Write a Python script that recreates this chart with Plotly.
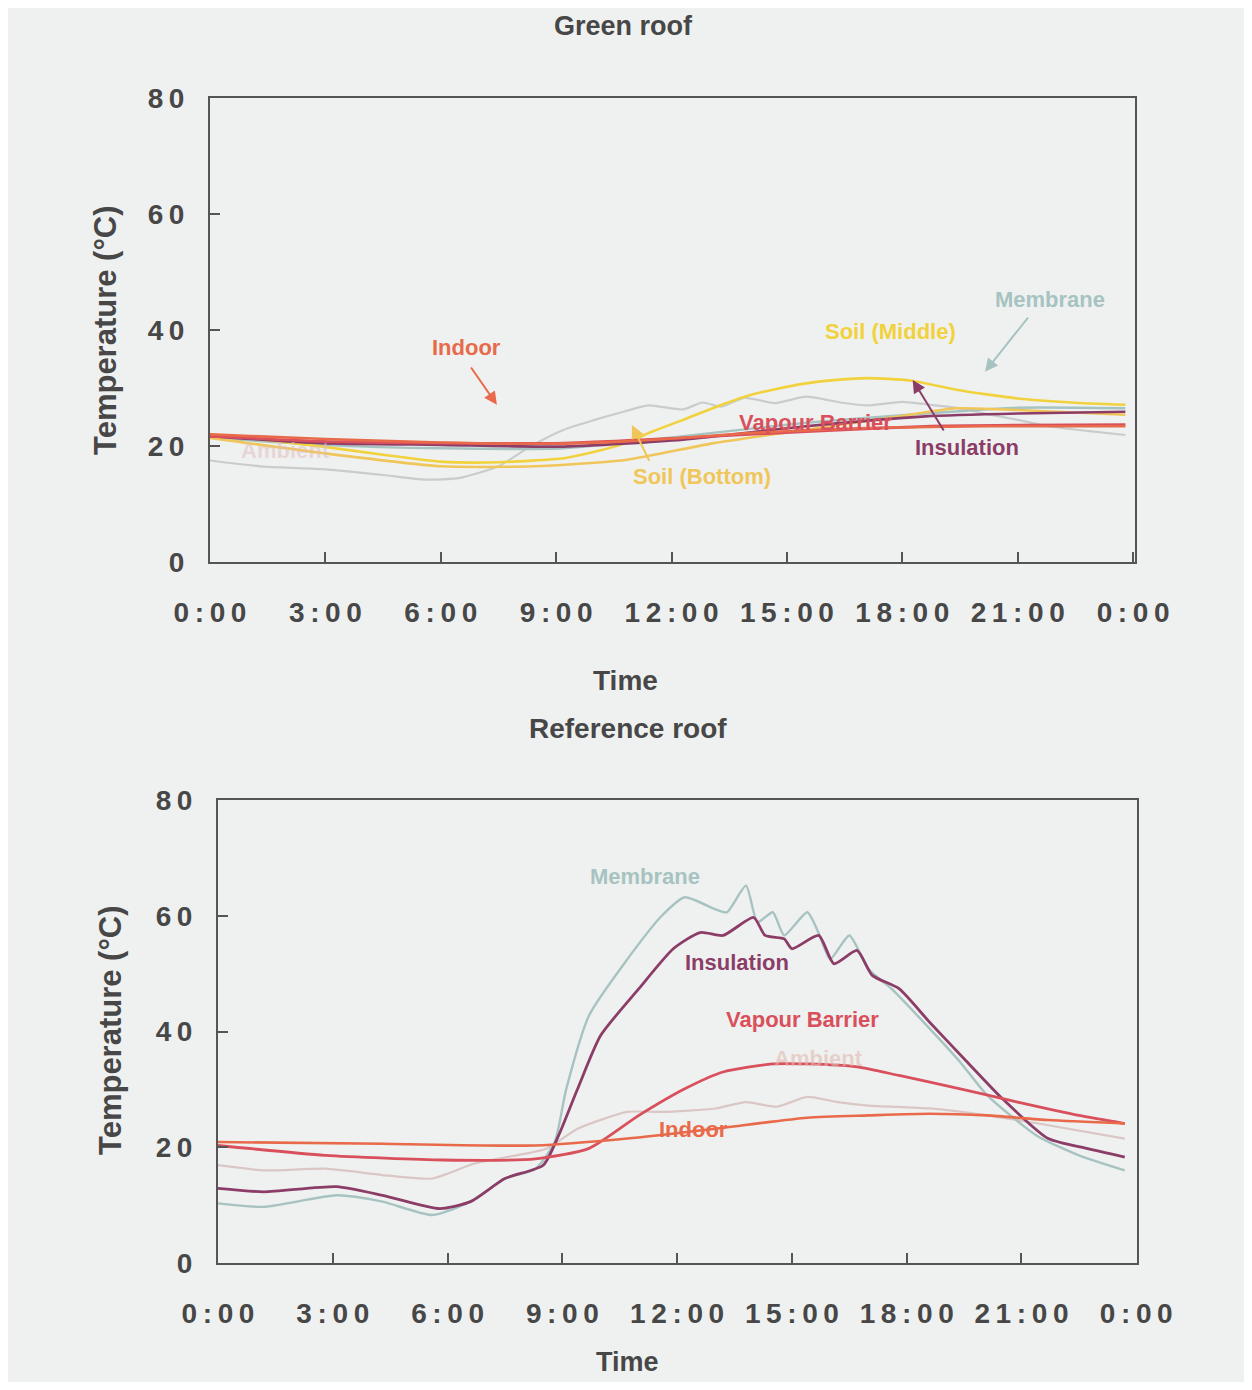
import plotly.graph_objects as go

# ---------------- tick labels ----------------
TIME_TICKS = [0, 3, 6, 9, 12, 15, 18, 21, 24]
TIME_LABELS = ["0:00", "3:00", "6:00", "9:00", "12:00", "15:00", "18:00", "21:00", "0:00"]
TEMP_TICKS = [0, 20, 40, 60, 80]
TEMP_LABELS = ["0", "20", "40", "60", "80"]

# ---------------- Green roof data (hours, °C) ----------------
g_ambient_h = [0, 1.3, 2.9, 4.5, 5.6, 6.5, 7.5, 8.3, 9.2, 10, 10.8, 11.4, 12.3, 12.8, 13.3, 13.9,
               14.7, 15.5, 16.4, 17.1, 18, 18.6, 19.5, 20.2, 21, 21.8, 22.8, 23.8]
g_ambient_t = [17.5, 16.5, 16.0, 15.0, 14.2, 14.5, 16.5, 19.8, 22.8, 24.5, 26.0, 27.0, 26.3, 27.5, 26.8, 28.3,
               27.4, 28.5, 27.5, 27.0, 27.6, 27.2, 26.5, 25.5, 24.5, 23.4, 22.6, 21.9]
g_membrane_h = [0, 2.9, 6, 9.2, 12.3, 15.5, 18.6, 21, 23.8]
g_membrane_t = [21.4, 20.2, 19.6, 19.6, 21.7, 24.0, 25.6, 26.6, 26.5]
g_soil_bot_h = [0, 2.9, 6, 8.4, 10.8, 13.1, 15.5, 17.9, 19.4, 21, 23.8]
g_soil_bot_t = [21.4, 18.8, 16.5, 16.5, 17.6, 20.5, 22.8, 25.1, 26.5, 26.2, 25.4]
g_soil_mid_h = [0, 1.5, 2.9, 4.5, 6, 7.5, 9.2, 10, 10.8, 11.5, 12.3, 13.1, 13.9, 14.7, 15.5, 16.3,
                17.1, 18.2, 19.4, 20.2, 21, 22.4, 23.8]
g_soil_mid_t = [22.0, 21.0, 19.9, 18.5, 17.3, 17.2, 17.9, 19.0, 20.5, 22.5, 24.5, 26.6, 28.5, 29.8, 30.8, 31.4,
                31.7, 31.3, 29.7, 28.9, 28.2, 27.5, 27.1]
g_insulation_h = [0, 2.9, 6, 9.2, 12.3, 15.5, 18.6, 21, 23.8]
g_insulation_t = [21.7, 20.5, 20.2, 19.9, 21.1, 23.4, 25.1, 25.6, 25.9]
g_vapour_h = [0, 2.9, 6, 9.2, 12.3, 15.5, 18.6, 21, 23.8]
g_vapour_t = [21.7, 20.8, 20.5, 20.5, 21.4, 22.5, 23.4, 23.6, 23.7]
g_indoor_h = [0, 3, 6, 9, 10.8, 12.5, 13.9, 15.5, 17.1, 20.2, 23.8]
g_indoor_t = [22.0, 21.2, 20.6, 20.4, 20.8, 21.5, 22.2, 22.7, 23.1, 23.4, 23.4]

# ---------------- Reference roof data (hours, °C) ----------------
r_ambient_h = [0, 1.2, 2.8, 4.3, 5.6, 6.7, 7.8, 8.6, 9.4, 10.7, 11.6, 13.0, 13.8, 14.6, 15.4, 16.2,
               17.0, 18.6, 20.1, 21.7, 23.7]
r_ambient_t = [16.9, 16.0, 16.3, 15.2, 14.6, 17.2, 18.6, 19.8, 23.2, 26.1, 26.1, 26.7, 27.8, 27.0, 28.7, 27.8,
               27.2, 26.7, 25.5, 23.8, 21.5]
r_membrane_h = [0, 1.2, 3.1, 4.3, 5.6, 6.6, 7.5, 8.3, 8.8, 9.1, 9.7, 10.7, 11.6, 12.2, 13.0, 13.3,
                13.8, 14.1, 14.5, 14.8, 15.4, 15.7, 16.0, 16.5, 17.0, 17.6, 18.6, 19.4, 20.1, 21.4,
                22.5, 23.7]
r_membrane_t = [10.3, 9.7, 11.7, 10.6, 8.3, 10.6, 14.6, 16.3, 20.9, 30.0, 42.8, 52.5, 60.0, 63.2, 61.1, 60.6,
                65.2, 58.9, 60.6, 56.6, 60.6, 57.0, 52.5, 56.6, 50.8, 47.4, 40.5, 34.7, 29.0, 22.0,
                18.6, 16.0]
r_insulation_h = [0, 1.2, 3.1, 4.3, 5.8, 6.6, 7.5, 8.5, 8.9, 9.4, 10.0, 11.0, 11.9, 12.6, 13.2, 14.0,
                  14.3, 14.8, 15.0, 15.7, 16.1, 16.7, 17.1, 17.8, 18.6, 19.5, 20.5, 21.7, 22.7, 23.7]
r_insulation_t = [12.9, 12.3, 13.2, 11.7, 9.4, 10.6, 14.6, 16.9, 22.0, 30.1, 39.3, 47.4, 54.3, 57.1, 56.6, 59.7,
                  56.6, 56.0, 54.3, 56.6, 51.7, 54.0, 49.7, 47.4, 41.6, 35.3, 28.4, 21.5, 19.8, 18.3]
r_vapour_h = [0, 2.8, 5.9, 8.3, 9.7, 11.0, 12.2, 13.2, 14.5, 15.4, 16.7, 17.8, 19.4, 20.9, 22.5, 23.7]
r_vapour_t = [20.3, 18.6, 17.8, 18.0, 19.8, 25.5, 30.1, 33.0, 34.4, 34.4, 33.9, 32.4, 30.1, 27.8, 25.5, 24.1]
r_indoor_h = [0, 4.3, 8.3, 10.7, 13.0, 15.4, 17.0, 18.6, 20.1, 21.7, 23.7]
r_indoor_t = [20.9, 20.6, 20.3, 21.5, 23.2, 25.1, 25.5, 25.8, 25.5, 24.7, 24.1]

# ---------------- label texts ----------------
LBL_MEMBRANE = "Membrane"
LBL_INSULATION = "Insulation"
LBL_VAPOUR = "Vapour Barrier"
LBL_INDOOR = "Indoor"
LBL_AMBIENT = "Ambient"
LBL_SOIL_MID = "Soil (Middle)"
LBL_SOIL_BOT = "Soil (Bottom)"

C_MEMBRANE = "#a7c3c1"
C_INSULATION = "#8b3d68"
C_VAPOUR = "#d9505c"
C_INDOOR = "#e86a4a"
C_AMBIENT_G = "#c9cccc"
C_AMBIENT_R = "#dac7c5"
C_SOIL_MID = "#f1d23c"
C_SOIL_BOT = "#f0c65a"

FONT = "Liberation Sans, Arial, sans-serif"
BG = "#eff1f0"
AX = "#555555"
TXT = "#474747"

# page offset (browser body margin) and figure size
OFF = 8
W, H = 1252 - 2 * OFF, 1390 - 2 * OFF


def px(X):
    return (X - OFF) / W


def py(Y):
    return 1 - (Y - OFF) / H


def spaced(s):
    return "\u2009".join(s)


fig = go.Figure()


def add(h, t, color, xa, ya, width=2.6, name=""):
    fig.add_trace(go.Scatter(x=h, y=t, mode="lines", name=name, xaxis=xa, yaxis=ya,
                             line=dict(color=color, width=width, shape="spline", smoothing=0.6),
                             showlegend=False, hoverinfo="skip"))


# green roof traces
add(g_ambient_h, g_ambient_t, C_AMBIENT_G, "x", "y", 2.2, LBL_AMBIENT)
add(g_membrane_h, g_membrane_t, C_MEMBRANE, "x", "y", 2.4, LBL_MEMBRANE)
add(g_soil_bot_h, g_soil_bot_t, C_SOIL_BOT, "x", "y", 2.6, LBL_SOIL_BOT)
add(g_soil_mid_h, g_soil_mid_t, C_SOIL_MID, "x", "y", 2.6, LBL_SOIL_MID)
add(g_insulation_h, g_insulation_t, C_INSULATION, "x", "y", 2.6, LBL_INSULATION)
add(g_vapour_h, g_vapour_t, C_VAPOUR, "x", "y", 2.8, LBL_VAPOUR)
add(g_indoor_h, g_indoor_t, C_INDOOR, "x", "y", 2.6, LBL_INDOOR)

# reference roof traces
add(r_ambient_h, r_ambient_t, C_AMBIENT_R, "x2", "y2", 2.2, LBL_AMBIENT)
add(r_membrane_h, r_membrane_t, C_MEMBRANE, "x2", "y2", 2.4, LBL_MEMBRANE)
add(r_insulation_h, r_insulation_t, C_INSULATION, "x2", "y2", 2.8, LBL_INSULATION)
add(r_vapour_h, r_vapour_t, C_VAPOUR, "x2", "y2", 2.8, LBL_VAPOUR)
add(r_indoor_h, r_indoor_t, C_INDOOR, "x2", "y2", 2.6, LBL_INDOOR)

tickfont = dict(family=FONT, size=28, color="#474747", weight="bold")
xcommon = dict(tickvals=TIME_TICKS, ticktext=[spaced(s) for s in TIME_LABELS], ticks="inside", ticklen=10,
               tickwidth=1.5, tickcolor=AX, showline=True, linecolor=AX, linewidth=2, mirror=True,
               showgrid=False, zeroline=False, tickfont=tickfont, ticklabelstandoff=24, automargin=False)
ycommon = dict(tickvals=TEMP_TICKS, ticktext=[spaced(s) for s in TEMP_LABELS], ticks="inside", ticklen=10,
               tickwidth=1.5, tickcolor=AX, showline=True, linecolor=AX, linewidth=2, mirror=True,
               showgrid=False, zeroline=False, tickfont=tickfont, range=[0, 80], ticklabelstandoff=18,
               automargin=False)

fig.update_layout(
    width=W, height=H, margin=dict(l=0, r=0, t=0, b=0, autoexpand=False),
    paper_bgcolor=BG, plot_bgcolor=BG,
    xaxis=dict(domain=[px(210), px(1135)], anchor="y", range=[0, 24.05], **xcommon),
    yaxis=dict(domain=[py(562), py(98)], anchor="x", **ycommon),
    xaxis2=dict(domain=[px(218), px(1137)], anchor="y2", range=[0, 24.02], **xcommon),
    yaxis2=dict(domain=[py(1263), py(800)], anchor="x2", **ycommon),
)

ann = []


def label(text, x, y, color, xr="x", yr="y", size=22):
    ann.append(dict(text=text, x=x, y=y, xref=xr, yref=yr, showarrow=False,
                    font=dict(family=FONT, size=size, color=color, weight="bold"),
                    xanchor="center", yanchor="middle"))


def arrow(x0, y0, x1, y1, color, xr="x", yr="y"):
    ann.append(dict(text="", x=x1, y=y1, ax=x0, ay=y0, xref=xr, yref=yr, axref=xr, ayref=yr,
                    showarrow=True, arrowhead=2, arrowsize=1.3, arrowwidth=2, arrowcolor=color))


# green roof labels
label(LBL_INDOOR, 6.68, 36.9, C_INDOOR)
arrow(6.76, 33.8, 7.46, 27.1, C_INDOOR)
label(LBL_SOIL_MID, 17.68, 39.7, C_SOIL_MID)
label(LBL_MEMBRANE, 21.84, 45.2, C_MEMBRANE)
arrow(21.3, 42.4, 20.15, 32.8, C_MEMBRANE)
label(LBL_VAPOUR, 15.73, 24.1, C_VAPOUR)
label(LBL_INSULATION, 19.68, 19.8, C_INSULATION)
arrow(19.1, 22.4, 18.27, 31.4, C_INSULATION)
label(LBL_SOIL_BOT, 12.79, 14.7, C_SOIL_BOT)
arrow(11.44, 17.2, 10.97, 23.6, C_SOIL_BOT)
label(LBL_AMBIENT, 1.95, 19.3, "rgba(225,190,190,0.55)")

# reference roof labels
label(LBL_MEMBRANE, 11.16, 66.7, C_MEMBRANE, "x2", "y2")
label(LBL_INSULATION, 13.57, 52.0, C_INSULATION, "x2", "y2")
label(LBL_VAPOUR, 15.29, 42.1, C_VAPOUR, "x2", "y2")
label(LBL_AMBIENT, 15.69, 35.4, "rgba(225,185,175,0.6)", "x2", "y2")
label(LBL_INDOOR, 12.42, 23.0, C_INDOOR, "x2", "y2")


# titles and axis titles
def ptext(text, X, Y, size=29, angle=0):
    ann.append(dict(text=text, x=px(X), y=py(Y), xref="paper", yref="paper", showarrow=False,
                    textangle=angle, font=dict(family=FONT, size=size, color=TXT, weight="bold"),
                    xanchor="center", yanchor="middle"))


ptext("Green roof", 623, 26, 27)
ptext("Reference roof", 628, 728, 28)
ptext("Time", 625, 680, 28)
ptext("Time", 627, 1362, 27)
ptext("Temperature (°C)", 105, 330, 31, -90)
ptext("Temperature (°C)", 110, 1030, 31, -90)

fig.update_layout(annotations=ann)

fig.write_html("out.html")
